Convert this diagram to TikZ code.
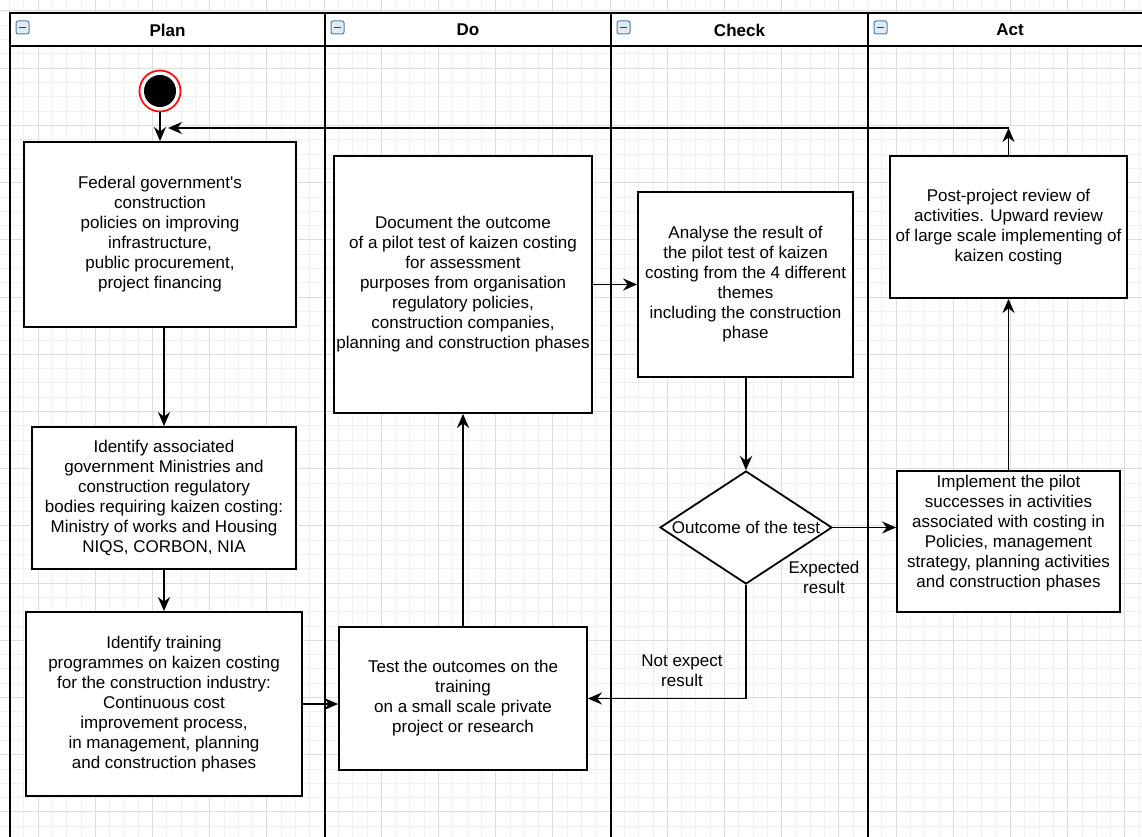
\documentclass[tikz,border=0pt]{standalone}
\usepackage{fontspec}
\setmainfont{Liberation Sans}
\usepackage{xcolor}
\usepackage{tikz}
\usetikzlibrary{arrows.meta,shapes.geometric,calc}
\tikzset{>={Stealth[length=14pt,width=12pt,inset=4.5pt]}}
\definecolor{gridmin}{HTML}{F0F0F0}
\definecolor{gridmaj}{HTML}{DDDDDD}
\definecolor{btnedge}{HTML}{4F7FA6}
\definecolor{btnfill}{HTML}{E2EAF1}
\definecolor{startred}{HTML}{FF1010}
\tikzset{
  stepbox/.style={draw,line width=1.8pt,fill=white,align=center,inner sep=2pt,
    font=\fontsize{17}{20}\selectfont},
  decision/.style={diamond,draw,line width=1.8pt,fill=white,inner sep=0pt,
    minimum width=172pt,minimum height=113pt},
  flow/.style={->,line width=1.8pt},
  lanetitle/.style={font=\bfseries\fontsize{17}{20}\selectfont},
  note/.style={align=center,font=\fontsize{17}{20}\selectfont,inner sep=0pt}
}
\newcommand{\bggrid}{%
  \foreach \gi in {0,...,79} \draw[gridmin,line width=0.8pt] ({9.4+\gi*14.3},0) -- ({9.4+\gi*14.3},837);
  \foreach \gi in {0,...,58} \draw[gridmin,line width=0.8pt] (0,{11+\gi*14.3}) -- (1142,{11+\gi*14.3});
  \foreach \gi in {0,...,19} \draw[gridmaj,line width=1pt] ({38+\gi*57.2},0) -- ({38+\gi*57.2},837);
  \foreach \gi in {0,...,14} \draw[gridmaj,line width=1pt] (0,{11+\gi*57.2}) -- (1142,{11+\gi*57.2});
}
\newcommand{\lanes}{%
  \fill[white] (10,13) rectangle (1152,46);
  \draw[line width=1.8pt] (1152,13) -- (10,13) -- (10,837);
  \draw[line width=1.8pt] (10,46) -- (1152,46);
  \foreach \lx in {325,611,868} \draw[line width=1.8pt] (\lx,13) -- (\lx,837);
}
\newcommand{\lanebtn}[1]{%
  \draw[btnedge,fill=btnfill,line width=1pt,rounded corners=2pt] (#1+6,21) rectangle (#1+19,34);
  \draw[black!75,line width=1.4pt] (#1+9,27.5) -- (#1+16,27.5);
}

\begin{document}
\begin{tikzpicture}[x=1pt,y=-1pt]
\useasboundingbox (0,0) rectangle (1142,837);
\clip (0,0) rectangle (1142,837);
\bggrid \lanes
\lanebtn{10} \lanebtn{325} \lanebtn{611} \lanebtn{868}
\node[lanetitle] (tplan) at (167.5,30) {Plan};
\node[lanetitle] (tdo) at (468,30) {Do};
\node[lanetitle] (tcheck) at (739.5,30) {Check};
\node[lanetitle] (tact) at (1010,30) {Act};

\node[circle,draw=startred,line width=1.8pt,fill=white,minimum size=41pt,inner sep=0pt] (start) at (160,91) {};
\node[circle,fill=black,minimum size=32pt,inner sep=0pt] (startdot) at (start) {};

\node[stepbox,minimum width=272pt,minimum height=185pt] (plana) at (160,234.5)
  {Federal government\textquotesingle s\\construction\\policies on improving\\infrastructure,\\public procurement,\\project financing};
\node[stepbox,minimum width=264pt,minimum height=142pt] (planb) at (164,498)
  {Identify associated\\government Ministries and\\construction regulatory\\bodies requiring kaizen costing:\\Ministry of works and Housing\\NIQS, CORBON, NIA};
\node[stepbox,minimum width=276pt,minimum height=184pt] (planc) at (164,704)
  {Identify training\\programmes on kaizen costing\\for the construction industry:\\Continuous cost\\improvement process,\\in management, planning\\and construction phases};
\node[stepbox,minimum width=258pt,minimum height=257pt] (dotop) at (463,284.5)
  {Document the outcome\\of a pilot test of kaizen costing\\for assessment\\purposes from organisation\\regulatory policies,\\construction companies,\\planning and construction phases};
\node[stepbox,minimum width=248pt,minimum height=143pt] (dobot) at (463,698.5)
  {Test the outcomes on the\\training\\on a small scale private\\project or research};
\node[stepbox,minimum width=215pt,minimum height=185pt] (chk) at (745.5,284.5)
  {Analyse the result of\\the pilot test of kaizen\\costing from the 4 different\\themes\\including the construction\\phase};
\node[decision] (dec) at (746,527.5) {};
\node[note] (dectxt) at (dec) {Outcome of the test};
\node[stepbox,minimum width=237pt,minimum height=142pt] (actt) at (1008.5,227)
  {Post-project review of\\activities. Upward review\\of large scale implementing of\\kaizen costing};
\node[stepbox,minimum width=223pt,minimum height=141pt] (actb) at (1008.5,541.5)
  {Implement the pilot\\successes in activities\\associated with costing in\\Policies, management\\strategy, planning activities\\and construction phases\\};
\node[note] (expl) at (824,577) {Expected\\result};
\node[note] (nexpl) at (682,670.5) {Not expect\\result};
\coordinate (loopturn) at (1008.5,128);
\coordinate (backin) at (168,128);

\draw[flow] (start) -- (plana);
\draw[flow] (planb.north |- plana.south) -- (planb.north);
\draw[flow] (planb.south) -- (planc.north);
\draw[flow] (planc.east) -- (planc.east -| dobot.west);
\draw[flow] (dobot) -- (dotop);
\draw[flow] (dotop) -- (chk);
\draw[flow] (dec.north |- chk.south) -- (dec.north);
\draw[flow] (dec.east) -- (dec.east -| actb.west);
\draw[flow] (dec.south) |- (dobot.east);
\draw[flow] (actb) -- (actt);
\draw[flow] (actt.north) -- (loopturn);
\draw[flow] (loopturn) -- (backin);
\end{tikzpicture}
\end{document}
